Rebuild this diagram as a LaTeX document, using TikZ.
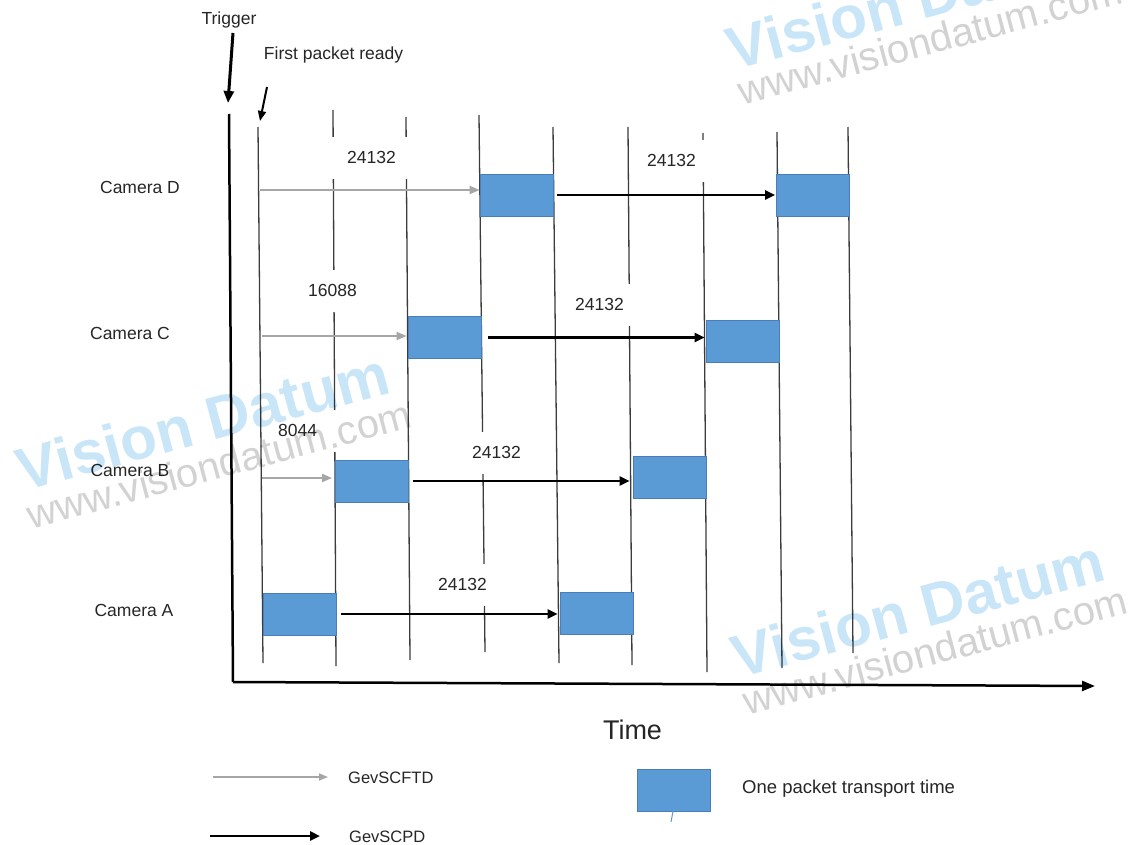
\documentclass[tikz,border=0pt]{standalone}
\usepackage{fontspec}
\setmainfont{Liberation Sans}
\usetikzlibrary{arrows.meta}
\definecolor{pktblue}{HTML}{5B9BD5}
\definecolor{pktedge}{HTML}{4A7EBB}
\definecolor{gridline}{HTML}{3C3C3C}
\definecolor{grayarrow}{HTML}{A6A6A6}
\definecolor{wmblue}{RGB}{200,230,248}
\definecolor{wmgray}{RGB}{210,210,210}
\definecolor{txtcol}{HTML}{262626}
\begin{document}
\begin{tikzpicture}[x=1pt,y=-1pt,
  txt/.style={inner sep=0pt, font=\fontsize{17.5}{20}\selectfont, text height=0.72em, text depth=0pt, text=txtcol, yshift=-3pt},
  lbl/.style={txt, fill=white, anchor=west, minimum height=42pt, text width=57pt, inner xsep=15.5pt, align=left, text height=1.18em},
  packet/.style={draw=pktedge, fill=pktblue, line width=0.8pt, minimum width=73pt, minimum height=42pt, inner sep=0pt},
  vline/.style={draw=gridline, line width=1.3pt},
  ftd/.style={draw=grayarrow, line width=2pt, -{Triangle[length=10pt,width=8pt]}},
  pd/.style={draw=black, line width=2.5pt, -{Triangle[length=10pt,width=9pt]}},
  axisline/.style={draw=black, line width=2.5pt},
  wmbig/.style={text=wmblue, font=\fontsize{60}{60}\selectfont\bfseries, rotate=15, inner sep=0pt},
  wmsmall/.style={text=wmgray, font=\fontsize{40}{40}\selectfont, rotate=15, inner sep=0pt},
]
\clip (0,0) rectangle (1129,845);
\fill[white] (0,0) rectangle (1129,845);

% vertical time lines
\coordinate (L1t) at (258,127); \coordinate (L1b) at (263,663);
\coordinate (L2t) at (333,110); \coordinate (L2b) at (336,666);
\coordinate (L3t) at (406,117); \coordinate (L3b) at (410,660);
\coordinate (L4t) at (479,115); \coordinate (L4b) at (485,652);
\coordinate (L5t) at (553,127); \coordinate (L5b) at (559,663);
\coordinate (L6t) at (628,127); \coordinate (L6b) at (632,665);
\coordinate (L7t) at (703,133); \coordinate (L7b) at (707,672);
\coordinate (L8t) at (777,132); \coordinate (L8b) at (782,668);
\coordinate (L9t) at (848,127); \coordinate (L9b) at (853,653);
\foreach \i in {1,...,9} { \draw[vline] (L\i t) -- (L\i b); }

% value labels (white text boxes)
\node[lbl] (vD1) at (331.5,155) {24132};
\node[lbl] (vD2) at (631.5,158) {24132};
\node[lbl] (vC1) at (292.5,288) {16088};
\node[lbl] (vC2) at (559.5,302) {24132};
\node[lbl] (vB1) at (262.5,428) {8044};
\node[lbl] (vB2) at (456.5,450) {24132};
\node[lbl] (vA1) at (422.5,582) {24132};

% packets
\node[packet] (pD1) at (516.5,195) {};
\node[packet] (pD2) at (813,195) {};
\node[packet] (pC1) at (444.5,337.5) {};
\node[packet] (pC2) at (742.5,341) {};
\node[packet] (pB1) at (372,481) {};
\node[packet] (pB2) at (669.5,477.5) {};
\node[packet] (pA1) at (299.5,614) {};
\node[packet] (pA2) at (596.5,613.5) {};

% GevSCFTD arrows
\coordinate (gD) at (260,190);
\coordinate (gC) at (262,336);
\coordinate (gB) at (262,478);
\draw[ftd] (gD) -- (gD -| pD1.west);
\draw[ftd, shorten >=1pt] (gC) -- (gC -| pC1.west);
\draw[ftd, shorten >=3pt] (gB) -- (gB -| pB1.west);

% GevSCPD arrows
\draw[pd, shorten <=4pt, shorten >=1pt] (pD1.east) -- (pD1.east -| pD2.west);
\draw[pd, shorten <=7pt, shorten >=1pt] (pC1.east) -- (pC1.east -| pC2.west);
\draw[pd, shorten <=4pt, shorten >=3pt] (pB1.east) -- (pB1.east -| pB2.west);
\draw[pd, shorten <=5pt, shorten >=2pt] (pA1.east) -- (pA1.east -| pA2.west);

% axes
\coordinate (ytop) at (229,114);
\coordinate (origin) at (233,682);
\coordinate (xend) at (1095,686);
\draw[axisline] (ytop) -- (origin);
\draw[axisline, -{Triangle[length=13pt,width=10pt]}] (origin) -- (xend);

% trigger / first packet
\node[txt] (trig) at (229,18) {Trigger};
\node[txt] (fpr) at (333.5,53) {First packet ready};
\coordinate (trigS) at (233,33);
\coordinate (trigE) at (228,103);
\draw[draw=black, line width=3pt, -{Triangle[length=12pt,width=10pt]}] (trigS) -- (trigE);
\coordinate (fprS) at (267,87);
\coordinate (fprE) at (260,121);
\draw[draw=black, line width=2pt, -{Triangle[length=10pt,width=8pt]}] (fprS) -- (fprE);

% camera labels
\node[txt] (camD) at (140,187) {Camera D};
\node[txt] (camC) at (130,333) {Camera C};
\node[txt] (camB) at (130,470) {Camera B};
\node[txt] (camA) at (134,610) {Camera A};

\node[txt, font=\fontsize{27}{30}\selectfont, yshift=-4pt] (time) at (632.5,729) {Time};

% legend
\coordinate (lg1s) at (213,777); \coordinate (lg1e) at (328,777);
\draw[draw=grayarrow, line width=1.6pt, -{Triangle[length=9pt,width=7pt]}] (lg1s) -- (lg1e);
\node[txt, anchor=west, font=\fontsize{16.5}{19}\selectfont] (lftd) at (348,777) {GevSCFTD};
\coordinate (lg2s) at (210,836); \coordinate (lg2e) at (320,836);
\draw[draw=black, line width=2.8pt, -{Triangle[length=10pt,width=9pt]}] (lg2s) -- (lg2e);
\node[txt, anchor=west, font=\fontsize{16.5}{19}\selectfont] (lpd) at (349,836) {GevSCPD};
\node[packet] (lpk) at (673.5,790) {};
\node[txt, anchor=west, font=\fontsize{18.5}{21}\selectfont] (lpkt) at (742,787) {One packet transport time};
\coordinate (tick) at (671,822);
\draw[draw=pktblue, line width=1pt] (lpk.south -| 673,0) -- (tick);

% watermarks
\begin{scope}[blend mode=multiply]
\node[wmbig] (wm1a) at (918,608) {Vision Datum};
\node[wmsmall] (wm1b) at (935,650) {www.visiondatum.com};
\node[wmbig] (wm2a) at (203,421) {Vision Datum};
\node[wmsmall] (wm2b) at (219,464) {www.visiondatum.com};
\node[wmbig] (wm3a) at (913,0) {Vision Datum};
\node[wmsmall] (wm3b) at (930,40) {www.visiondatum.com};
\end{scope}
\end{tikzpicture}
\end{document}
